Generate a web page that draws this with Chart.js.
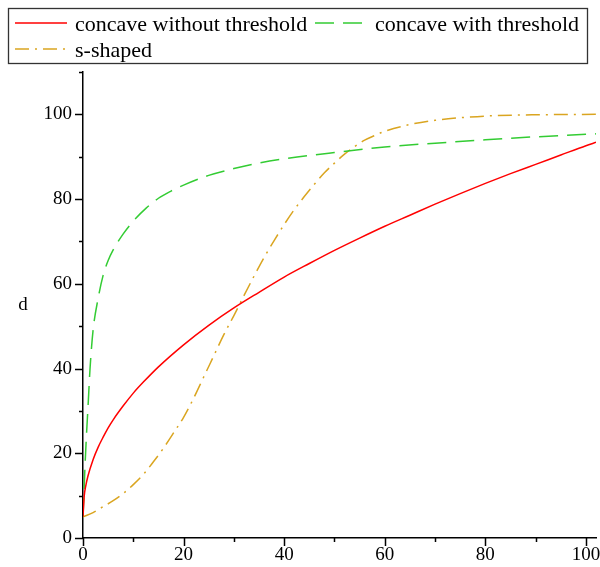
<!DOCTYPE html>
<html>
<head>
<meta charset="utf-8">
<script src="https://cdn.jsdelivr.net/npm/chart.js@4/dist/chart.umd.min.js"></script>
<style>
  body { margin: 0; background: #fff; }
  #wrap { width: 600px; height: 567px; }
</style>
</head>
<body>
<div id="wrap"><canvas id="chart" width="600" height="567"></canvas></div>
<script>
// --- data ---
const seriesNames = ['concave without threshold', 'concave with threshold', 's-shaped'];

const redX = [0, 0.25, 0.5, 1, 2, 3, 4, 5, 6, 8, 10, 12, 15, 20, 25, 30, 35, 40, 45, 50, 55, 60, 65, 70, 75, 80, 85, 90, 95, 100, 102];
const redY = [5, 10.0, 12.0, 14.7, 18.5, 21.4, 23.8, 26.0, 27.9, 31.2, 34.2, 36.8, 40.4, 45.6, 50.2, 54.3, 58.0, 61.6, 64.8, 67.9, 70.8, 73.6, 76.2, 78.8, 81.3, 83.7, 86.0, 88.2, 90.4, 92.6, 93.4];

const greenX = [0, 0.2, 0.4, 0.7, 1, 1.4, 2, 3, 4, 5, 6, 8, 10, 12.5, 15, 17.5, 20, 25, 30, 35, 40, 50, 60, 70, 80, 90, 100, 102];
const greenY = [5, 11, 17, 24.5, 31, 40, 49, 56.5, 62, 65.5, 68, 71.8, 74.8, 77.8, 80.2, 81.9, 83.3, 85.6, 87.2, 88.5, 89.5, 91.0, 92.3, 93.2, 94.0, 94.7, 95.3, 95.4];

const orangeX = [0, 2, 4, 6, 8, 10, 12, 14, 16, 18, 20, 22, 24, 26, 28, 30, 32, 34, 36, 38, 40, 42, 44, 46, 48, 50, 52, 54, 56, 58, 60, 65, 70, 75, 80, 90, 102];
const orangeY = [5.0, 6.0, 7.4, 8.8, 10.5, 12.6, 15.0, 18.0, 21.2, 24.8, 28.5, 33.0, 38.0, 43.0, 48.0, 52.5, 57.2, 61.8, 66.2, 70.2, 74.0, 77.5, 80.6, 83.5, 86.2, 88.5, 90.6, 92.4, 93.9, 95.0, 96.0, 97.6, 98.6, 99.2, 99.6, 99.9, 100];

const xTicks = [0, 20, 40, 60, 80, 100];
const yTicks = [0, 20, 40, 60, 80, 100];

const colors = ['#ff0000', '#33cc33', '#daa520'];
const dashes = [[], [19, 9], [14, 6, 2, 6]];
const FONT = '"Liberation Serif", "Times New Roman", serif';

const toPts = (xs, ys) => xs.map((x, i) => ({ x, y: ys[i] }));

// --- ticks, y label and framed legend ---
const decor = {
  id: 'decor',
  afterDraw(chart) {
    const ctx = chart.ctx;
    const xs = chart.scales.x, ys = chart.scales.y;
    ctx.save();
    ctx.strokeStyle = '#000';
    ctx.lineWidth = 1.5;
    ctx.beginPath();
    xs.ticks.forEach(t => {
      const px = Math.round(xs.getPixelForValue(t.value)) + 0.5;
      const len = t.value % 20 === 0 ? 8 : 4;
      ctx.moveTo(px, ys.bottom);
      ctx.lineTo(px, ys.bottom + len);
    });
    ys.ticks.forEach(t => {
      const py = Math.round(ys.getPixelForValue(t.value)) + 0.5;
      const len = t.value % 20 === 0 ? 8 : 4;
      ctx.moveTo(xs.left, py);
      ctx.lineTo(xs.left - len, py);
    });
    ctx.stroke();

    // axis label
    ctx.fillStyle = '#000';
    ctx.font = '19px ' + FONT;
    ctx.textAlign = 'center';
    ctx.textBaseline = 'middle';
    ctx.fillText('d', 23, 305);

    // legend box
    ctx.strokeStyle = '#333';
    ctx.lineWidth = 1.3;
    ctx.strokeRect(8.5, 8.5, 579, 55);
    const items = [
      { i: 0, x: 15, y: 31 },
      { i: 1, x: 315, y: 31 },
      { i: 2, x: 15, y: 57 }
    ];
    ctx.font = '22px ' + FONT;
    ctx.textAlign = 'left';
    ctx.textBaseline = 'alphabetic';
    items.forEach(it => {
      ctx.strokeStyle = colors[it.i];
      ctx.lineWidth = 1.5;
      ctx.setLineDash(dashes[it.i]);
      ctx.beginPath();
      ctx.moveTo(it.x, it.y - 8);
      ctx.lineTo(it.x + 52, it.y - 8);
      ctx.stroke();
      ctx.setLineDash([]);
      ctx.fillText(seriesNames[it.i], it.x + 60, it.y);
    });
    ctx.restore();
  }
};

new Chart(document.getElementById('chart'), {
  type: 'line',
  data: {
    datasets: [
      { label: seriesNames[0], data: toPts(redX, redY) },
      { label: seriesNames[1], data: toPts(greenX, greenY) },
      { label: seriesNames[2], data: toPts(orangeX, orangeY) }
    ].map((d, i) => Object.assign(d, {
      borderColor: colors[i],
      borderWidth: 1.5,
      borderDash: dashes[i],
      pointRadius: 0,
      fill: false,
      cubicInterpolationMode: 'monotone'
    }))
  },
  options: {
    responsive: false,
    animation: false,
    layout: { padding: { top: 72, right: 4, left: 0, bottom: 0 } },
    plugins: { legend: { display: false }, tooltip: { enabled: false } },
    scales: {
      x: {
        type: 'linear',
        min: 0,
        max: 102,
        grid: { display: true, drawOnChartArea: false, drawTicks: false },
        border: { display: true, color: '#000', width: 1.5 },
        ticks: {
          stepSize: 10,
          includeBounds: false,
          padding: 6,
          maxRotation: 0,
          autoSkip: false,
          color: '#000',
          font: { family: FONT, size: 19 },
          callback: v => xTicks.includes(v) ? String(v) : ''
        },
        afterBuildTicks: s => { s.ticks = s.ticks.filter(t => t.value % 10 === 0); },
        afterFit: s => { s.height = 29; s.paddingLeft = 0; s.paddingRight = 0; }
      },
      y: {
        min: 0,
        max: 110,
        grid: { display: true, drawOnChartArea: false, drawTicks: false },
        border: { display: true, color: '#000', width: 1.5 },
        ticks: {
          stepSize: 10,
          padding: 11,
          autoSkip: false,
          color: '#000',
          font: { family: FONT, size: 19 },
          callback: v => yTicks.includes(v) ? String(v) : ''
        },
        afterFit: s => { s.width = 83; s.paddingTop = 0; s.paddingBottom = 0; }
      }
    }
  },
  plugins: [decor]
});
</script>
</body>
</html>
